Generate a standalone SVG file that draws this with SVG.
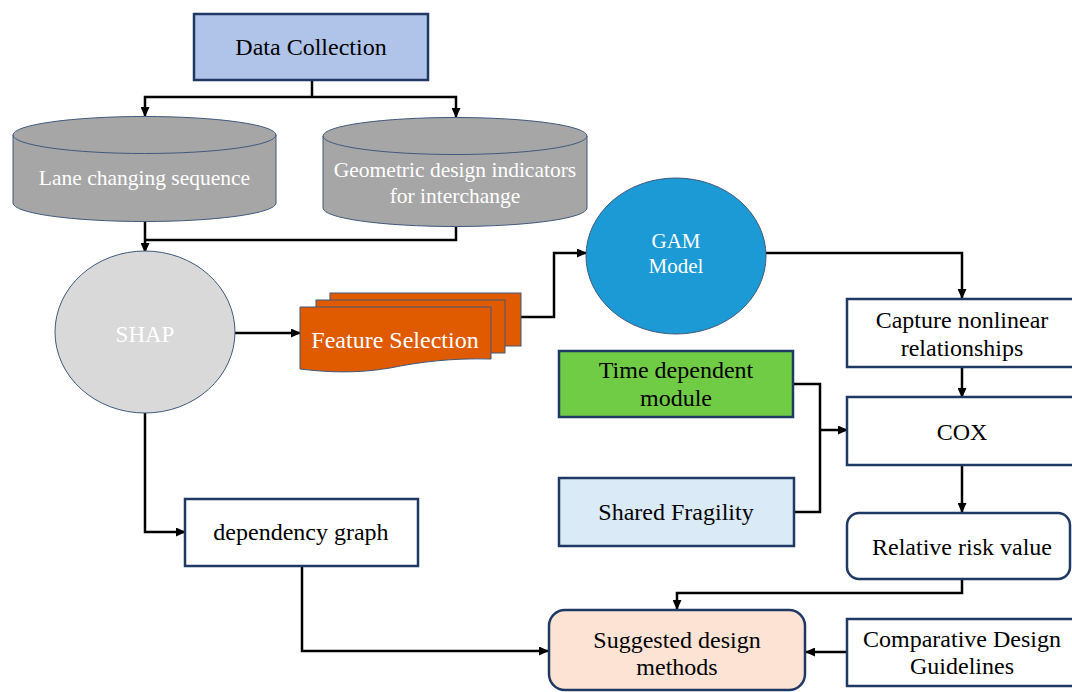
<svg xmlns="http://www.w3.org/2000/svg" width="1072" height="692" viewBox="0 0 1072 692">
  <defs>
    <marker id="arrow" markerUnits="userSpaceOnUse" markerWidth="10" markerHeight="9" refX="9" refY="4.5" orient="auto">
      <path d="M0,0 L10,4.5 L0,9 Z" fill="#000"/>
    </marker>
    <style>
      .box { stroke: #1F3864; stroke-width: 2.5; }
      .thin { stroke: #41597C; stroke-width: 1; }
      text { font-family: 'Liberation Serif', 'DejaVu Serif', serif; font-size: 24px; text-anchor: middle; fill: #000; }
      .w { fill: #fff; }
      .db { font-size: 21.5px; }
      .edge { fill: none; stroke: #000; stroke-width: 2.5; }
    </style>
  </defs>
  <rect width="1072" height="692" fill="#fff"/>

  <!-- connectors -->
  <g id="connectors">
    <path class="edge" d="M312,81 V97"/>
    <path class="edge" d="M312,97 H145 V116" marker-end="url(#arrow)"/>
    <path class="edge" d="M312,97 H456 V117" marker-end="url(#arrow)"/>
    <path class="edge" d="M456,226 V240 H145"/>
    <path class="edge" d="M145,221 V252" marker-end="url(#arrow)"/>
    <path class="edge" d="M235,333 H300" marker-end="url(#arrow)"/>
    <path class="edge" d="M521,317 H554 V253 H586" marker-end="url(#arrow)"/>
    <path class="edge" d="M766,253 H962 V298" marker-end="url(#arrow)"/>
    <path class="edge" d="M962,367 V397" marker-end="url(#arrow)"/>
    <path class="edge" d="M793,384 H820 V512 H794"/>
    <path class="edge" d="M820,430 H847" marker-end="url(#arrow)"/>
    <path class="edge" d="M962,465 V512" marker-end="url(#arrow)"/>
    <path class="edge" d="M962,579 V593 H677 V609" marker-end="url(#arrow)"/>
    <path class="edge" d="M847,652 H806" marker-end="url(#arrow)"/>
    <path class="edge" d="M145,413 V532 H185" marker-end="url(#arrow)"/>
    <path class="edge" d="M302,566 V651 H548" marker-end="url(#arrow)"/>
  </g>

  <!-- Data Collection -->
  <g id="data-collection">
    <rect class="box" x="194" y="14" width="234" height="66" fill="#B0C4E9"/>
    <text x="311" y="55">Data Collection</text>
  </g>

  <!-- Lane changing sequence (database) -->
  <g id="lane-changing">
    <path class="thin" d="M13,135 A131.5,18.5 0 0 1 276,135 V203 A131.5,18.5 0 0 1 13,203 Z" fill="#A6A6A6"/>
    <path class="thin" d="M13,135 A131.5,18.5 0 0 0 276,135" fill="none"/>
    <text class="w db" x="144.5" y="185">Lane changing sequence</text>
  </g>

  <!-- Geometric design indicators (database) -->
  <g id="geometric-indicators">
    <path class="thin" d="M323,136 A132,18.5 0 0 1 587,136 V208 A132,18.5 0 0 1 323,208 Z" fill="#A6A6A6"/>
    <path class="thin" d="M323,136 A132,18.5 0 0 0 587,136" fill="none"/>
    <text class="w db" x="455" y="177">Geometric design indicators</text>
    <text class="w db" x="455" y="203">for interchange</text>
  </g>

  <!-- SHAP -->
  <g id="shap">
    <ellipse class="thin" cx="145" cy="332" rx="90" ry="81" fill="#D9D9D9"/>
    <text class="w" x="145" y="342" style="font-size:23px">SHAP</text>
  </g>

  <!-- Feature Selection (multi-document) -->
  <g id="feature-selection">
    <rect class="thin" x="330" y="293" width="191" height="53" fill="#E05A00"/>
    <rect class="thin" x="316" y="300" width="189" height="53" fill="#E05A00"/>
    <path class="thin" d="M300,307 H491 V359 C450,358 420,362 390,368 C355,374 325,372 300,369 Z" fill="#E05A00"/>
    <text class="w" x="395" y="348">Feature Selection</text>
  </g>

  <!-- GAM Model -->
  <g id="gam-model">
    <ellipse class="thin" cx="676" cy="256" rx="90" ry="78" fill="#1B9AD6"/>
    <text class="w" x="676" y="248" style="font-size:21px">GAM</text>
    <text class="w" x="676" y="273" style="font-size:21px">Model</text>
  </g>

  <!-- Capture nonlinear relationships -->
  <g id="capture-nonlinear">
    <rect class="box" x="847" y="299" width="240" height="68" fill="#fff"/>
    <text x="962" y="328">Capture nonlinear</text>
    <text x="962" y="356">relationships</text>
  </g>

  <!-- Time dependent module -->
  <g id="time-dependent">
    <rect class="box" x="559" y="351" width="234" height="66" fill="#6FCC44"/>
    <text x="676" y="378">Time dependent</text>
    <text x="676" y="406">module</text>
  </g>

  <!-- COX -->
  <g id="cox">
    <rect class="box" x="847" y="397" width="240" height="68" fill="#fff"/>
    <text x="962" y="440">COX</text>
  </g>

  <!-- Shared Fragility -->
  <g id="shared-fragility">
    <rect class="box" x="559" y="478" width="235" height="68" fill="#DAEAF7"/>
    <text x="676" y="520">Shared Fragility</text>
  </g>

  <!-- Relative risk value -->
  <g id="relative-risk">
    <rect class="box" x="847" y="513" width="223" height="66" rx="12" fill="#fff"/>
    <text x="962" y="555">Relative risk value</text>
  </g>

  <!-- dependency graph -->
  <g id="dependency-graph">
    <rect class="box" x="185" y="499" width="233" height="67" fill="#fff"/>
    <text x="301" y="540">dependency graph</text>
  </g>

  <!-- Suggested design methods -->
  <g id="suggested-design">
    <rect class="box" x="549" y="610" width="256" height="80" rx="16" fill="#FCE3D4"/>
    <text x="677" y="648">Suggested design</text>
    <text x="677" y="675">methods</text>
  </g>

  <!-- Comparative Design Guidelines -->
  <g id="comparative-guidelines">
    <rect class="box" x="847" y="619" width="240" height="67" fill="#fff"/>
    <text x="962" y="647">Comparative Design</text>
    <text x="962" y="674">Guidelines</text>
  </g>
</svg>
